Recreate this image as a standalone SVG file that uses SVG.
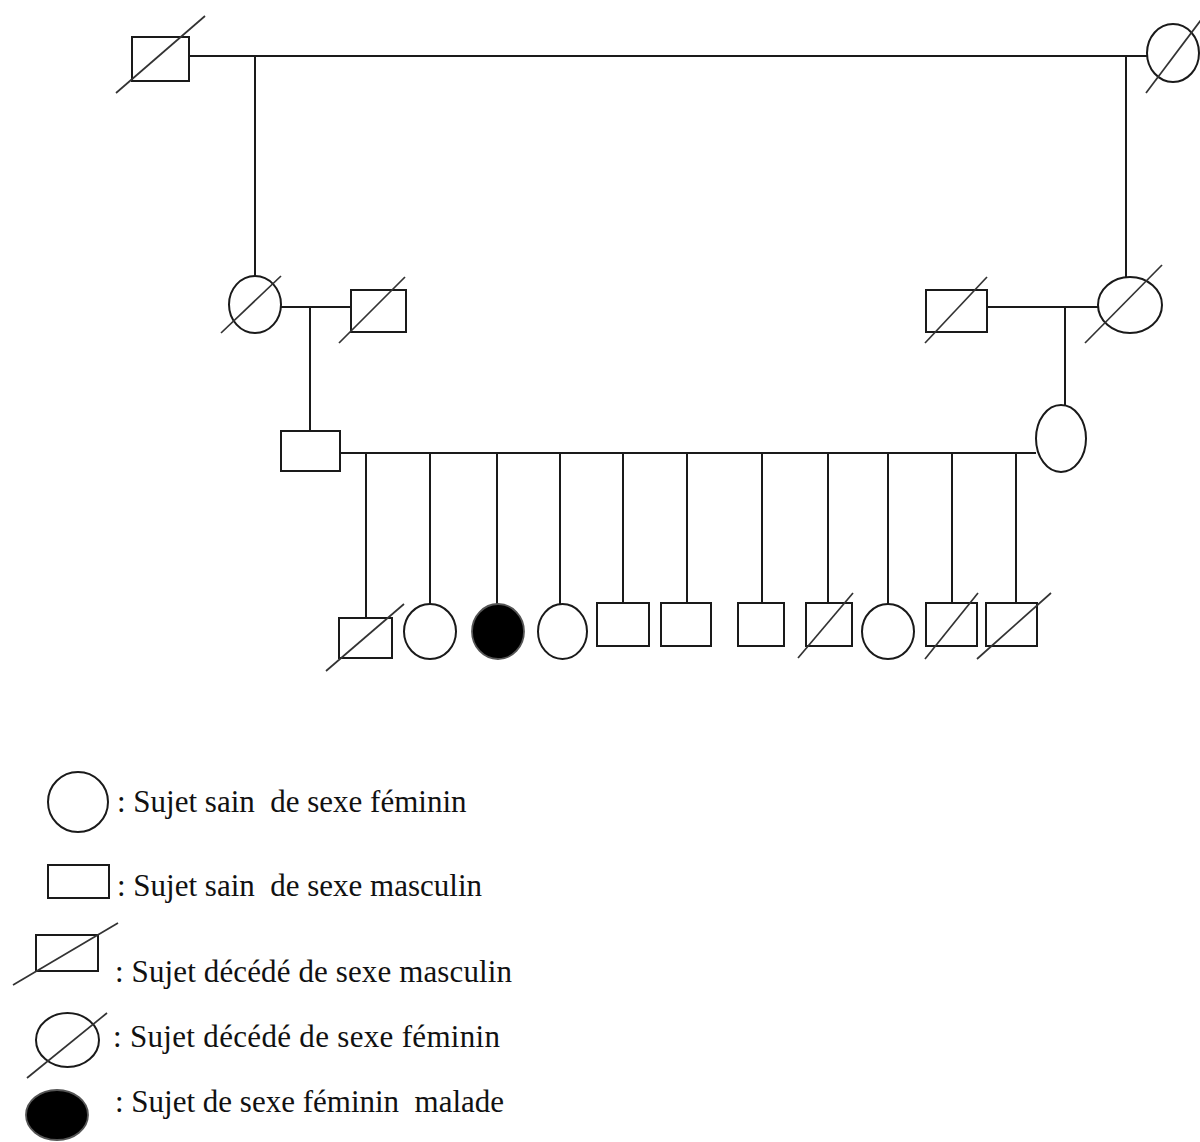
<svg xmlns="http://www.w3.org/2000/svg" width="1200" height="1142" viewBox="0 0 1200 1142">
<style>
.s{fill:#fff;stroke:#1a1a1a;stroke-width:2}
.f{fill:#000;stroke:#555;stroke-width:1.8}
.d{stroke:#333;stroke-width:1.7;fill:none}
.c line{stroke:#1a1a1a;stroke-width:2}
.t{font-family:"Liberation Serif","Times New Roman",serif;font-size:31px;fill:#111;white-space:pre}
</style>
<rect width="1200" height="1142" fill="#fff"/>
<g id="connectors" class="c">
<line x1="189" y1="56" x2="1147" y2="56"/>
<line x1="255" y1="56" x2="255" y2="276"/>
<line x1="1126" y1="56" x2="1126" y2="277"/>
<line x1="281" y1="307" x2="351" y2="307"/>
<line x1="310" y1="307" x2="310" y2="431"/>
<line x1="987" y1="307" x2="1098" y2="307"/>
<line x1="1065" y1="307" x2="1065" y2="405"/>
<line x1="340" y1="453" x2="1036" y2="453"/>
<line x1="366" y1="453" x2="366" y2="618"/>
<line x1="430" y1="453" x2="430" y2="604"/>
<line x1="497" y1="453" x2="497" y2="604"/>
<line x1="560" y1="453" x2="560" y2="604"/>
<line x1="623" y1="453" x2="623" y2="603"/>
<line x1="687" y1="453" x2="687" y2="603"/>
<line x1="762" y1="453" x2="762" y2="603"/>
<line x1="828" y1="453" x2="828" y2="603"/>
<line x1="888" y1="453" x2="888" y2="604"/>
<line x1="952" y1="453" x2="952" y2="603"/>
<line x1="1016" y1="453" x2="1016" y2="603"/>
</g>
<g id="n_grandfather"><rect class="s" x="132" y="37" width="57" height="44"/><line class="d" x1="116" y1="93" x2="205" y2="16"/></g>
<g id="n_grandmother"><ellipse class="s" cx="1173" cy="53" rx="26" ry="29"/><line class="d" x1="1146" y1="93" x2="1210" y2="8"/></g>
<g id="n_mother_left"><ellipse class="s" cx="255" cy="304.5" rx="26" ry="28.5"/><line class="d" x1="221" y1="333" x2="281" y2="276"/></g>
<g id="n_husband_left"><rect class="s" x="351" y="290" width="55" height="42"/><line class="d" x1="339" y1="343" x2="405" y2="277"/></g>
<g id="n_husband_right"><rect class="s" x="926" y="290" width="61" height="42"/><line class="d" x1="925" y1="343" x2="987" y2="277"/></g>
<g id="n_mother_right"><ellipse class="s" cx="1130" cy="305" rx="32" ry="28"/><line class="d" x1="1085" y1="343" x2="1162" y2="265"/></g>
<g id="n_father"><rect class="s" x="281" y="431" width="59" height="40"/></g>
<g id="n_mother"><ellipse class="s" cx="1061" cy="438.5" rx="25" ry="33.5"/></g>
<g id="c1"><rect class="s" x="339" y="618" width="53" height="40"/><line class="d" x1="326" y1="671" x2="404" y2="604"/></g>
<g id="c2"><ellipse class="s" cx="430" cy="631.5" rx="26" ry="27.5"/></g>
<g id="c3"><ellipse class="f" cx="498" cy="631.5" rx="26" ry="27.5"/></g>
<g id="c4"><ellipse class="s" cx="562.5" cy="631.5" rx="24.5" ry="27.5"/></g>
<g id="c5"><rect class="s" x="597" y="603" width="52" height="43"/></g>
<g id="c6"><rect class="s" x="661" y="603" width="50" height="43"/></g>
<g id="c7"><rect class="s" x="738" y="603" width="46" height="43"/></g>
<g id="c8"><rect class="s" x="806" y="603" width="46" height="43"/><line class="d" x1="798" y1="658" x2="853" y2="593"/></g>
<g id="c9"><ellipse class="s" cx="888" cy="631.5" rx="26" ry="27.5"/></g>
<g id="c10"><rect class="s" x="926" y="603" width="51" height="43"/><line class="d" x1="925" y1="659" x2="978" y2="593"/></g>
<g id="c11"><rect class="s" x="986" y="603" width="51" height="43"/><line class="d" x1="977" y1="659" x2="1051" y2="593"/></g>
<g id="legend">
<g id="l1"><ellipse class="s" cx="78" cy="802" rx="30" ry="30"/><text class="t" x="117" y="812">: Sujet sain  de sexe féminin</text></g>
<g id="l2"><rect class="s" x="48" y="865" width="61" height="33"/><text class="t" x="117" y="896">: Sujet sain  de sexe masculin</text></g>
<g id="l3"><rect class="s" x="36" y="935" width="62" height="36"/><line class="d" x1="13" y1="985" x2="118" y2="923"/><text class="t" x="115" y="982" textLength="397" lengthAdjust="spacing">: Sujet décédé de sexe masculin</text></g>
<g id="l4"><ellipse class="s" cx="67.5" cy="1040" rx="31.5" ry="27"/><line class="d" x1="27" y1="1078" x2="107" y2="1013"/><text class="t" x="113" y="1047" textLength="387" lengthAdjust="spacing">: Sujet décédé de sexe féminin</text></g>
<g id="l5"><ellipse class="f" cx="57" cy="1115" rx="31" ry="25"/><text class="t" x="115" y="1112">: Sujet de sexe féminin  malade</text></g>
</g>
</svg>
